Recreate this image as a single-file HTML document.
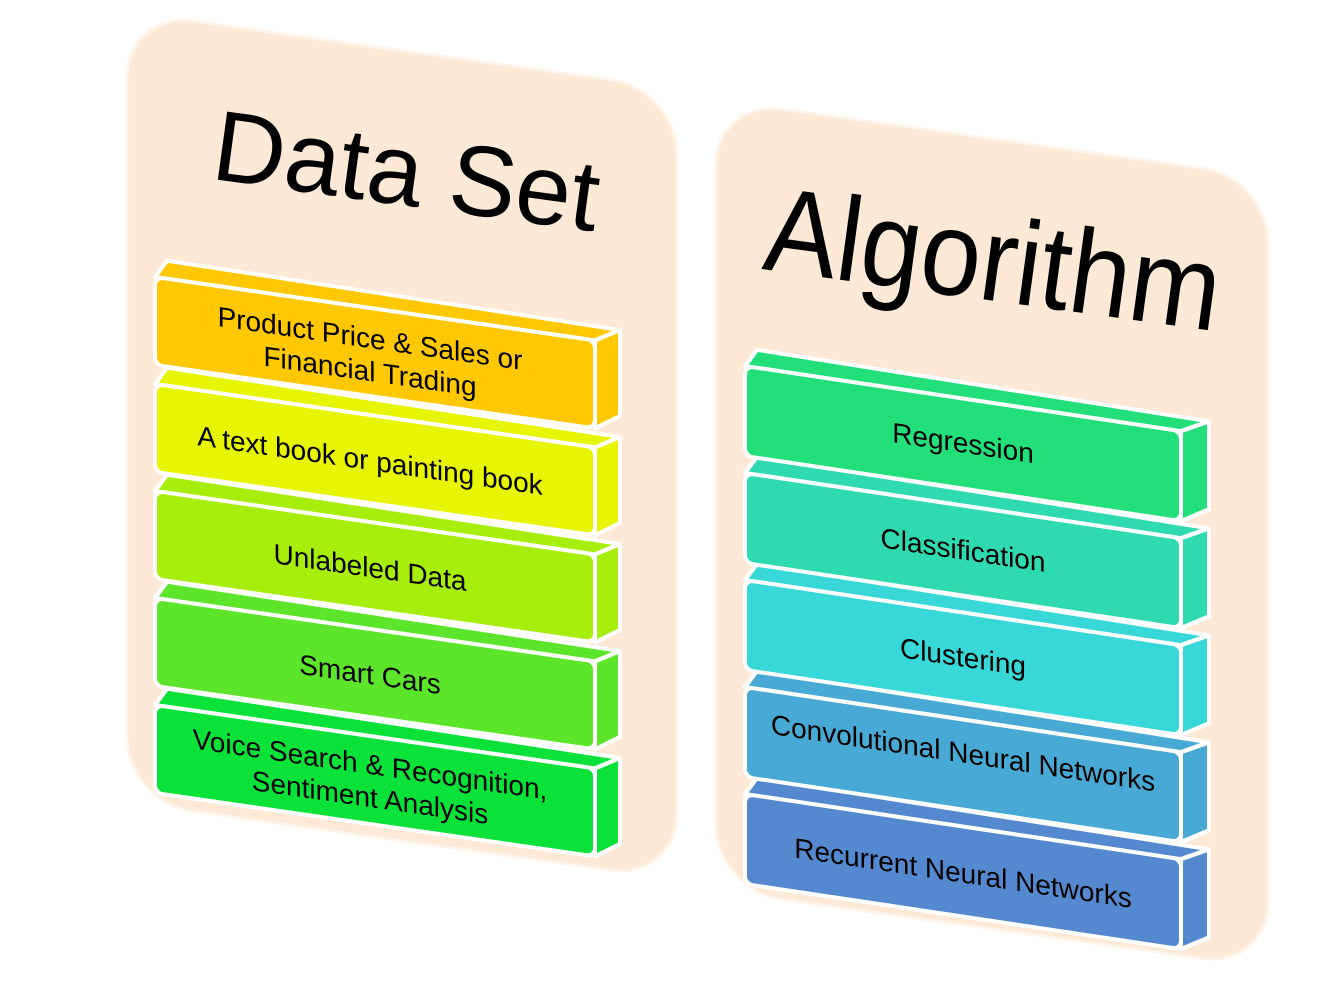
<!DOCTYPE html>
<html><head><meta charset="utf-8"><style>
html,body{margin:0;padding:0;background:#fff;}
svg{display:block;}
text{font-family:"Liberation Sans",sans-serif;fill:#000;}
</style></head><body>
<svg width="1334" height="985" viewBox="0 0 1334 985" xmlns="http://www.w3.org/2000/svg">
<g transform="translate(127,12) skewY(8)">
<rect x="0" y="0" width="550" height="790" rx="65" fill="#FDE9D5" stroke="#FFF4EA" stroke-width="3"/>
</g>
<g transform="translate(716,100) skewY(8)">
<rect x="0" y="0" width="552" height="790" rx="65" fill="#FDE9D5" stroke="#FFF4EA" stroke-width="3"/>
</g>
<text x="402" y="205" font-size="100" text-anchor="middle" textLength="388" lengthAdjust="spacingAndGlyphs" transform="rotate(7.8 402 205)">Data Set</text>
<text x="988" y="300" font-size="120" text-anchor="middle" textLength="458" lengthAdjust="spacingAndGlyphs" transform="rotate(7.8 988 300)">Algorithm</text>

<g font-size="28" text-anchor="middle" stroke-linejoin="round">
<g transform="translate(155,705) skewY(8.2)">
<polygon points="0,0 12,-18 465,-14 440,0" fill="#0AE23A" stroke="#fff" stroke-width="4"/>
<polygon points="440,0 465,-14 465,72 440,88" fill="#0AE23A" stroke="#fff" stroke-width="4"/>
<rect x="0" y="0" width="440" height="88" rx="8" fill="#0AE23A" stroke="#fff" stroke-width="4"/>
<text x="215" y="38">Voice Search &amp; Recognition,</text><text x="215" y="71">Sentiment Analysis</text>
</g>
<g transform="translate(155,598) skewY(8.2)">
<polygon points="0,0 12,-18 465,-14 440,0" fill="#5CE52A" stroke="#fff" stroke-width="4"/>
<polygon points="440,0 465,-14 465,72 440,88" fill="#5CE52A" stroke="#fff" stroke-width="4"/>
<rect x="0" y="0" width="440" height="88" rx="8" fill="#5CE52A" stroke="#fff" stroke-width="4"/>
<text x="215" y="55">Smart Cars</text>
</g>
<g transform="translate(155,491) skewY(8.2)">
<polygon points="0,0 12,-18 465,-14 440,0" fill="#A8EE0C" stroke="#fff" stroke-width="4"/>
<polygon points="440,0 465,-14 465,72 440,88" fill="#A8EE0C" stroke="#fff" stroke-width="4"/>
<rect x="0" y="0" width="440" height="88" rx="8" fill="#A8EE0C" stroke="#fff" stroke-width="4"/>
<text x="215" y="55">Unlabeled Data</text>
</g>
<g transform="translate(155,384) skewY(8.2)">
<polygon points="0,0 12,-18 465,-14 440,0" fill="#E8F500" stroke="#fff" stroke-width="4"/>
<polygon points="440,0 465,-14 465,72 440,88" fill="#E8F500" stroke="#fff" stroke-width="4"/>
<rect x="0" y="0" width="440" height="88" rx="8" fill="#E8F500" stroke="#fff" stroke-width="4"/>
<text x="215" y="55">A text book or painting book</text>
</g>
<g transform="translate(155,277) skewY(8.2)">
<polygon points="0,0 12,-18 465,-14 440,0" fill="#FFC800" stroke="#fff" stroke-width="4"/>
<polygon points="440,0 465,-14 465,72 440,88" fill="#FFC800" stroke="#fff" stroke-width="4"/>
<rect x="0" y="0" width="440" height="88" rx="8" fill="#FFC800" stroke="#fff" stroke-width="4"/>
<text x="215" y="40">Product Price &amp; Sales or</text><text x="215" y="73">Financial Trading</text>
</g>

<g transform="translate(745,794) skewY(8.5)">
<polygon points="0,0 12,-18 464,-14 436,0" fill="#5489D0" stroke="#fff" stroke-width="4"/>
<polygon points="436,0 464,-14 464,74 436,90" fill="#5489D0" stroke="#fff" stroke-width="4"/>
<rect x="0" y="0" width="436" height="90" rx="8" fill="#5489D0" stroke="#fff" stroke-width="4"/>
<text x="218" y="56">Recurrent Neural Networks</text>
</g>
<g transform="translate(745,687) skewY(8.5)">
<polygon points="0,0 12,-18 464,-14 436,0" fill="#48AAD4" stroke="#fff" stroke-width="4"/>
<polygon points="436,0 464,-14 464,74 436,90" fill="#48AAD4" stroke="#fff" stroke-width="4"/>
<rect x="0" y="0" width="436" height="90" rx="8" fill="#48AAD4" stroke="#fff" stroke-width="4"/>
<text x="218" y="43">Convolutional Neural Networks</text>
</g>
<g transform="translate(745,580) skewY(8.5)">
<polygon points="0,0 12,-18 464,-14 436,0" fill="#38D8D8" stroke="#fff" stroke-width="4"/>
<polygon points="436,0 464,-14 464,74 436,90" fill="#38D8D8" stroke="#fff" stroke-width="4"/>
<rect x="0" y="0" width="436" height="90" rx="8" fill="#38D8D8" stroke="#fff" stroke-width="4"/>
<text x="218" y="54">Clustering</text>
</g>
<g transform="translate(745,473) skewY(8.5)">
<polygon points="0,0 12,-18 464,-14 436,0" fill="#30DAB0" stroke="#fff" stroke-width="4"/>
<polygon points="436,0 464,-14 464,74 436,90" fill="#30DAB0" stroke="#fff" stroke-width="4"/>
<rect x="0" y="0" width="436" height="90" rx="8" fill="#30DAB0" stroke="#fff" stroke-width="4"/>
<text x="218" y="54">Classification</text>
</g>
<g transform="translate(745,366) skewY(8.5)">
<polygon points="0,0 12,-18 464,-14 436,0" fill="#22DF7A" stroke="#fff" stroke-width="4"/>
<polygon points="436,0 464,-14 464,74 436,90" fill="#22DF7A" stroke="#fff" stroke-width="4"/>
<rect x="0" y="0" width="436" height="90" rx="8" fill="#22DF7A" stroke="#fff" stroke-width="4"/>
<text x="218" y="54">Regression</text>
</g>
</g>
</svg>
</body></html>
